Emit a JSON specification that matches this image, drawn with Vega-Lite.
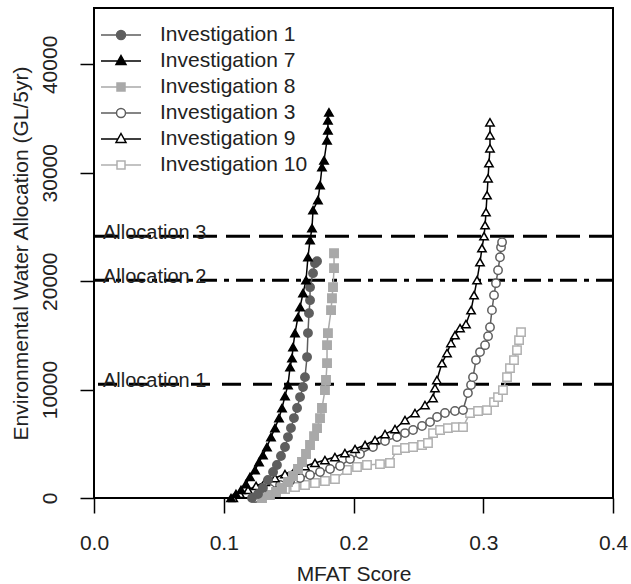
{
  "$schema": "https://vega.github.io/schema/vega-lite/v6.json",
  "autosize": {"type": "none"},
  "padding": {"left": 94, "top": 8, "right": 18, "bottom": 86},
  "width": 519,
  "height": 490,
  "background": "white",
  "config": {
    "font": "Liberation Sans",
    "view": {"stroke": "#000", "strokeWidth": 2},
    "axis": {"grid": false, "domain": false, "tickColor": "#000", "tickWidth": 1.5, "labelColor": "#222", "titleColor": "#222", "labelFont": "Liberation Sans", "titleFont": "Liberation Sans", "labelFontWeight": "normal", "titleFontWeight": "normal"}
  },
  "datasets": {
    "curves": [
      {"series":"Investigation 10","mfat":0.1264,"alloc":0},{"series":"Investigation 10","mfat":0.1318,"alloc":280},{"series":"Investigation 10","mfat":0.1395,"alloc":550},{"series":"Investigation 10","mfat":0.1472,"alloc":830},{"series":"Investigation 10","mfat":0.1549,"alloc":1010},{"series":"Investigation 10","mfat":0.1626,"alloc":1200},{"series":"Investigation 10","mfat":0.1703,"alloc":1380},{"series":"Investigation 10","mfat":0.1780,"alloc":1570},{"series":"Investigation 10","mfat":0.1857,"alloc":1750},{"series":"Investigation 10","mfat":0.1950,"alloc":2580},{"series":"Investigation 10","mfat":0.2027,"alloc":2860},{"series":"Investigation 10","mfat":0.2104,"alloc":3040},{"series":"Investigation 10","mfat":0.2204,"alloc":3130},{"series":"Investigation 10","mfat":0.2281,"alloc":3230},{"series":"Investigation 10","mfat":0.2335,"alloc":4420},{"series":"Investigation 10","mfat":0.2397,"alloc":4610},{"series":"Investigation 10","mfat":0.2459,"alloc":4700},{"series":"Investigation 10","mfat":0.2528,"alloc":4890},{"series":"Investigation 10","mfat":0.2574,"alloc":5070},{"series":"Investigation 10","mfat":0.2613,"alloc":5990},{"series":"Investigation 10","mfat":0.2667,"alloc":6270},{"series":"Investigation 10","mfat":0.2728,"alloc":6450},{"series":"Investigation 10","mfat":0.2790,"alloc":6540},{"series":"Investigation 10","mfat":0.2844,"alloc":6540},{"series":"Investigation 10","mfat":0.2898,"alloc":7840},{"series":"Investigation 10","mfat":0.2960,"alloc":8020},{"series":"Investigation 10","mfat":0.3029,"alloc":8110},{"series":"Investigation 10","mfat":0.3083,"alloc":8850},{"series":"Investigation 10","mfat":0.3114,"alloc":9310},{"series":"Investigation 10","mfat":0.3152,"alloc":9950},{"series":"Investigation 10","mfat":0.3183,"alloc":11150},{"series":"Investigation 10","mfat":0.3206,"alloc":11980},{"series":"Investigation 10","mfat":0.3237,"alloc":12720},{"series":"Investigation 10","mfat":0.3260,"alloc":13640},{"series":"Investigation 10","mfat":0.3276,"alloc":14560},{"series":"Investigation 10","mfat":0.3291,"alloc":15300},
      {"series":"Investigation 3","mfat":0.1241,"alloc":0},{"series":"Investigation 3","mfat":0.1295,"alloc":460},{"series":"Investigation 3","mfat":0.1356,"alloc":830},{"series":"Investigation 3","mfat":0.1434,"alloc":1200},{"series":"Investigation 3","mfat":0.1511,"alloc":1570},{"series":"Investigation 3","mfat":0.1588,"alloc":1840},{"series":"Investigation 3","mfat":0.1665,"alloc":2120},{"series":"Investigation 3","mfat":0.1742,"alloc":2400},{"series":"Investigation 3","mfat":0.1819,"alloc":2670},{"series":"Investigation 3","mfat":0.1896,"alloc":2950},{"series":"Investigation 3","mfat":0.1973,"alloc":3590},{"series":"Investigation 3","mfat":0.2050,"alloc":4060},{"series":"Investigation 3","mfat":0.2150,"alloc":4700},{"series":"Investigation 3","mfat":0.2243,"alloc":5250},{"series":"Investigation 3","mfat":0.2335,"alloc":5620},{"series":"Investigation 3","mfat":0.2397,"alloc":5990},{"series":"Investigation 3","mfat":0.2459,"alloc":6270},{"series":"Investigation 3","mfat":0.2528,"alloc":6640},{"series":"Investigation 3","mfat":0.2590,"alloc":7000},{"series":"Investigation 3","mfat":0.2644,"alloc":7470},{"series":"Investigation 3","mfat":0.2705,"alloc":7840},{"series":"Investigation 3","mfat":0.2782,"alloc":8020},{"series":"Investigation 3","mfat":0.2844,"alloc":8110},{"series":"Investigation 3","mfat":0.2882,"alloc":9680},{"series":"Investigation 3","mfat":0.2906,"alloc":10420},{"series":"Investigation 3","mfat":0.2921,"alloc":11150},{"series":"Investigation 3","mfat":0.2944,"alloc":12720},{"series":"Investigation 3","mfat":0.2975,"alloc":13460},{"series":"Investigation 3","mfat":0.3014,"alloc":14100},{"series":"Investigation 3","mfat":0.3037,"alloc":14930},{"series":"Investigation 3","mfat":0.3052,"alloc":15760},{"series":"Investigation 3","mfat":0.3067,"alloc":17330},{"series":"Investigation 3","mfat":0.3083,"alloc":18710},{"series":"Investigation 3","mfat":0.3098,"alloc":19820},{"series":"Investigation 3","mfat":0.3114,"alloc":21010},{"series":"Investigation 3","mfat":0.3129,"alloc":22210},{"series":"Investigation 3","mfat":0.3137,"alloc":23130},{"series":"Investigation 3","mfat":0.3145,"alloc":23600},
      {"series":"Investigation 9","mfat":0.1073,"alloc":0},{"series":"Investigation 9","mfat":0.1125,"alloc":370},{"series":"Investigation 9","mfat":0.1187,"alloc":740},{"series":"Investigation 9","mfat":0.1249,"alloc":1110},{"series":"Investigation 9","mfat":0.1318,"alloc":1480},{"series":"Investigation 9","mfat":0.1395,"alloc":1840},{"series":"Investigation 9","mfat":0.1472,"alloc":2210},{"series":"Investigation 9","mfat":0.1549,"alloc":2580},{"series":"Investigation 9","mfat":0.1626,"alloc":2950},{"series":"Investigation 9","mfat":0.1703,"alloc":3230},{"series":"Investigation 9","mfat":0.1780,"alloc":3500},{"series":"Investigation 9","mfat":0.1857,"alloc":3780},{"series":"Investigation 9","mfat":0.1934,"alloc":4150},{"series":"Investigation 9","mfat":0.2012,"alloc":4520},{"series":"Investigation 9","mfat":0.2089,"alloc":4890},{"series":"Investigation 9","mfat":0.2166,"alloc":5350},{"series":"Investigation 9","mfat":0.2243,"alloc":5900},{"series":"Investigation 9","mfat":0.2320,"alloc":6360},{"series":"Investigation 9","mfat":0.2397,"alloc":7190},{"series":"Investigation 9","mfat":0.2474,"alloc":7840},{"series":"Investigation 9","mfat":0.2551,"alloc":8570},{"series":"Investigation 9","mfat":0.2613,"alloc":9220},{"series":"Investigation 9","mfat":0.2628,"alloc":10140},{"series":"Investigation 9","mfat":0.2643,"alloc":10880},{"series":"Investigation 9","mfat":0.2682,"alloc":12440},{"series":"Investigation 9","mfat":0.2721,"alloc":13370},{"series":"Investigation 9","mfat":0.2751,"alloc":14290},{"series":"Investigation 9","mfat":0.2782,"alloc":15020},{"series":"Investigation 9","mfat":0.2821,"alloc":15670},{"series":"Investigation 9","mfat":0.2867,"alloc":16040},{"series":"Investigation 9","mfat":0.2906,"alloc":17330},{"series":"Investigation 9","mfat":0.2929,"alloc":18710},{"series":"Investigation 9","mfat":0.2952,"alloc":20090},{"series":"Investigation 9","mfat":0.2975,"alloc":21750},{"series":"Investigation 9","mfat":0.2990,"alloc":23040},{"series":"Investigation 9","mfat":0.3006,"alloc":24150},{"series":"Investigation 9","mfat":0.3014,"alloc":25160},{"series":"Investigation 9","mfat":0.3021,"alloc":26360},{"series":"Investigation 9","mfat":0.3029,"alloc":27930},{"series":"Investigation 9","mfat":0.3037,"alloc":29490},{"series":"Investigation 9","mfat":0.3044,"alloc":30880},{"series":"Investigation 9","mfat":0.3052,"alloc":32260},{"series":"Investigation 9","mfat":0.3052,"alloc":33460},{"series":"Investigation 9","mfat":0.3052,"alloc":34660},
      {"series":"Investigation 8","mfat":0.1295,"alloc":0},{"series":"Investigation 8","mfat":0.1356,"alloc":280},{"series":"Investigation 8","mfat":0.1403,"alloc":550},{"series":"Investigation 8","mfat":0.1449,"alloc":920},{"series":"Investigation 8","mfat":0.1495,"alloc":1480},{"series":"Investigation 8","mfat":0.1534,"alloc":2030},{"series":"Investigation 8","mfat":0.1572,"alloc":2670},{"series":"Investigation 8","mfat":0.1603,"alloc":3320},{"series":"Investigation 8","mfat":0.1634,"alloc":4060},{"series":"Investigation 8","mfat":0.1665,"alloc":4890},{"series":"Investigation 8","mfat":0.1696,"alloc":5710},{"series":"Investigation 8","mfat":0.1719,"alloc":6450},{"series":"Investigation 8","mfat":0.1742,"alloc":7370},{"series":"Investigation 8","mfat":0.1757,"alloc":8300},{"series":"Investigation 8","mfat":0.1780,"alloc":9950},{"series":"Investigation 8","mfat":0.1788,"alloc":10880},{"series":"Investigation 8","mfat":0.1796,"alloc":12440},{"series":"Investigation 8","mfat":0.1796,"alloc":14100},{"series":"Investigation 8","mfat":0.1803,"alloc":15210},{"series":"Investigation 8","mfat":0.1827,"alloc":17330},{"series":"Investigation 8","mfat":0.1834,"alloc":18430},{"series":"Investigation 8","mfat":0.1842,"alloc":19450},{"series":"Investigation 8","mfat":0.1850,"alloc":21200},{"series":"Investigation 8","mfat":0.1850,"alloc":22580},
      {"series":"Investigation 1","mfat":0.1218,"alloc":0},{"series":"Investigation 1","mfat":0.1264,"alloc":370},{"series":"Investigation 1","mfat":0.1302,"alloc":920},{"series":"Investigation 1","mfat":0.1341,"alloc":1660},{"series":"Investigation 1","mfat":0.1380,"alloc":2400},{"series":"Investigation 1","mfat":0.1410,"alloc":3040},{"series":"Investigation 1","mfat":0.1441,"alloc":3870},{"series":"Investigation 1","mfat":0.1472,"alloc":4700},{"series":"Investigation 1","mfat":0.1495,"alloc":5620},{"series":"Investigation 1","mfat":0.1518,"alloc":6450},{"series":"Investigation 1","mfat":0.1541,"alloc":7370},{"series":"Investigation 1","mfat":0.1565,"alloc":8300},{"series":"Investigation 1","mfat":0.1588,"alloc":9310},{"series":"Investigation 1","mfat":0.1611,"alloc":10230},{"series":"Investigation 1","mfat":0.1626,"alloc":11150},{"series":"Investigation 1","mfat":0.1642,"alloc":13000},{"series":"Investigation 1","mfat":0.1649,"alloc":15210},{"series":"Investigation 1","mfat":0.1657,"alloc":17050},{"series":"Investigation 1","mfat":0.1665,"alloc":18250},{"series":"Investigation 1","mfat":0.1665,"alloc":19450},{"series":"Investigation 1","mfat":0.1688,"alloc":20740},{"series":"Investigation 1","mfat":0.1703,"alloc":21660},{"series":"Investigation 1","mfat":0.1719,"alloc":21840},
      {"series":"Investigation 7","mfat":0.1056,"alloc":0},{"series":"Investigation 7","mfat":0.1094,"alloc":370},{"series":"Investigation 7","mfat":0.1133,"alloc":740},{"series":"Investigation 7","mfat":0.1171,"alloc":1290},{"series":"Investigation 7","mfat":0.1202,"alloc":1940},{"series":"Investigation 7","mfat":0.1241,"alloc":2580},{"series":"Investigation 7","mfat":0.1272,"alloc":3320},{"series":"Investigation 7","mfat":0.1302,"alloc":3960},{"series":"Investigation 7","mfat":0.1333,"alloc":4700},{"series":"Investigation 7","mfat":0.1364,"alloc":5620},{"series":"Investigation 7","mfat":0.1395,"alloc":6450},{"series":"Investigation 7","mfat":0.1426,"alloc":7370},{"series":"Investigation 7","mfat":0.1449,"alloc":8300},{"series":"Investigation 7","mfat":0.1472,"alloc":9400},{"series":"Investigation 7","mfat":0.1495,"alloc":10420},{"series":"Investigation 7","mfat":0.1511,"alloc":12070},{"series":"Investigation 7","mfat":0.1526,"alloc":12900},{"series":"Investigation 7","mfat":0.1534,"alloc":13920},{"series":"Investigation 7","mfat":0.1549,"alloc":15210},{"series":"Investigation 7","mfat":0.1572,"alloc":16680},{"series":"Investigation 7","mfat":0.1588,"alloc":17600},{"series":"Investigation 7","mfat":0.1611,"alloc":18900},{"series":"Investigation 7","mfat":0.1634,"alloc":20090},{"series":"Investigation 7","mfat":0.1649,"alloc":22210},{"series":"Investigation 7","mfat":0.1665,"alloc":23780},{"series":"Investigation 7","mfat":0.1680,"alloc":24890},{"series":"Investigation 7","mfat":0.1688,"alloc":26550},{"series":"Investigation 7","mfat":0.1726,"alloc":27470},{"series":"Investigation 7","mfat":0.1742,"alloc":28850},{"series":"Investigation 7","mfat":0.1757,"alloc":30510},{"series":"Investigation 7","mfat":0.1773,"alloc":31150},{"series":"Investigation 7","mfat":0.1796,"alloc":33000},{"series":"Investigation 7","mfat":0.1803,"alloc":33920},{"series":"Investigation 7","mfat":0.1803,"alloc":34840},{"series":"Investigation 7","mfat":0.1811,"alloc":35580}
    ],
    "alloc": [
      {"label": "Allocation 3", "value": 24150},
      {"label": "Allocation 2", "value": 20090},
      {"label": "Allocation 1", "value": 10500}
    ]
  },
  "resolve": {"scale": {"shape": "independent", "fill": "independent", "stroke": "independent"}},
  "layer": [
    {
      "data": {"name": "alloc"},
      "mark": {"type": "rule", "strokeWidth": 3, "color": "#000"},
      "encoding": {
        "y": {"field": "value", "type": "quantitative"},
        "strokeDash": {"field": "label", "type": "nominal", "legend": null, "scale": {"domain": ["Allocation 3", "Allocation 2", "Allocation 1"], "range": [[24, 9], [17, 7, 5, 7], [19, 12]]}}
      }
    },
    {
      "data": {"name": "alloc"},
      "mark": {"type": "text", "align": "left", "baseline": "alphabetic", "dx": 9, "dy": 3, "fontSize": 20, "color": "#222", "font": "Liberation Sans"},
      "encoding": {
        "x": {"datum": 0},
        "y": {"field": "value", "type": "quantitative"},
        "text": {"field": "label"}
      }
    },
    {
      "data": {"name": "curves"},
      "mark": {"type": "line", "strokeWidth": 1.5},
      "encoding": {
        "x": {"field": "mfat", "type": "quantitative"},
        "y": {"field": "alloc", "type": "quantitative"},
        "order": {"field": "alloc"},
        "color": {"field": "series", "type": "nominal", "legend": null, "scale": {"domain": ["Investigation 1", "Investigation 7", "Investigation 8", "Investigation 3", "Investigation 9", "Investigation 10"], "range": ["#5e5e5e", "#000000", "#a9a9a9", "#5e5e5e", "#000000", "#b0b0b0"]}}
      }
    },
    {
      "data": {"name": "curves"},
      "mark": {"type": "point", "filled": true, "opacity": 1, "size": 70, "strokeWidth": 1.5},
      "encoding": {
        "x": {"field": "mfat", "type": "quantitative", "title": "MFAT Score", "scale": {"domain": [0, 0.4], "nice": false, "zero": false},
          "axis": {"values": [0, 0.1, 0.2, 0.3, 0.4], "format": ".1f", "labelFlush": false, "labelOverlap": false, "tickSize": 15, "labelPadding": 19, "labelFontSize": 21, "titleFontSize": 21, "titleBaseline": "alphabetic", "titleY": 82}},
        "y": {"field": "alloc", "type": "quantitative", "title": "Environmental Water Allocation (GL/5yr)", "scale": {"domain": [0, 45200], "nice": false},
          "axis": {"values": [0, 10000, 20000, 30000, 40000], "format": "d", "labelAngle": -90, "labelAlign": "center", "labelBaseline": "alphabetic", "labelFlush": false, "labelOverlap": false, "tickSize": 14, "labelPadding": 24, "labelFontSize": 21, "titleFontSize": 21, "titleBaseline": "middle", "titleX": -73, "titleAngle": -90}},
        "shape": {"field": "series", "type": "nominal", "legend": null, "scale": {"domain": ["Investigation 1", "Investigation 7", "Investigation 8", "Investigation 3", "Investigation 9", "Investigation 10"], "range": ["circle", "triangle-up", "square", "circle", "triangle-up", "square"]}},
        "fill": {"field": "series", "type": "nominal", "legend": null, "scale": {"domain": ["Investigation 1", "Investigation 7", "Investigation 8", "Investigation 3", "Investigation 9", "Investigation 10"], "range": ["#5e5e5e", "#000000", "#a9a9a9", "#ffffff", "#ffffff", "#ffffff"]}},
        "stroke": {"field": "series", "type": "nominal", "legend": null, "scale": {"domain": ["Investigation 1", "Investigation 7", "Investigation 8", "Investigation 3", "Investigation 9", "Investigation 10"], "range": ["#5e5e5e", "#000000", "#a9a9a9", "#5e5e5e", "#000000", "#b0b0b0"]}}
      }
    },
    {
      "data": {"name": "curves"},
      "transform": [{"filter": "datum.alloc < 0"}],
      "mark": {"type": "point", "filled": true, "opacity": 1, "strokeWidth": 1.5},
      "encoding": {
        "x": {"field": "mfat", "type": "quantitative"},
        "y": {"field": "alloc", "type": "quantitative"},
        "shape": {"field": "series", "type": "nominal", "scale": {"domain": ["Investigation 1", "Investigation 7", "Investigation 8", "Investigation 3", "Investigation 9", "Investigation 10"], "range": ["M-2,0H2M0.45,0A0.45,0.45,0,1,1,-0.45,0A0.45,0.45,0,1,1,0.45,0Z", "M-2,0H2M0,-0.55L0.5,0.35L-0.5,0.35Z", "M-2,0H2M-0.4,-0.4H0.4V0.4H-0.4Z", "M-2,0H-0.45M0.45,0H2M0.45,0A0.45,0.45,0,1,1,-0.45,0A0.45,0.45,0,1,1,0.45,0Z", "M-2,0H-0.3M0.3,0H2M0,-0.55L0.5,0.35L-0.5,0.35Z", "M-2,0H-0.4M0.4,0H2M-0.4,-0.4H0.4V0.4H-0.4Z"]},
          "legend": {"title": null, "orient": "top-left", "offset": 16, "padding": 0, "rowPadding": 5, "symbolSize": 400, "symbolStrokeWidth": 1.5, "labelOffset": 28, "labelFontSize": 21, "labelLimit": 300, "labelColor": "#222", "labelFont": "Liberation Sans"}},
        "fill": {"field": "series", "type": "nominal", "scale": {"domain": ["Investigation 1", "Investigation 7", "Investigation 8", "Investigation 3", "Investigation 9", "Investigation 10"], "range": ["#5e5e5e", "#000000", "#a9a9a9", "#ffffff", "#ffffff", "#ffffff"]},
          "legend": {"title": null, "orient": "top-left", "offset": 16, "padding": 0, "rowPadding": 5, "symbolSize": 400, "symbolStrokeWidth": 1.5, "labelOffset": 28, "labelFontSize": 21, "labelLimit": 300, "labelColor": "#222", "labelFont": "Liberation Sans"}},
        "stroke": {"field": "series", "type": "nominal", "scale": {"domain": ["Investigation 1", "Investigation 7", "Investigation 8", "Investigation 3", "Investigation 9", "Investigation 10"], "range": ["#5e5e5e", "#000000", "#a9a9a9", "#5e5e5e", "#000000", "#b0b0b0"]},
          "legend": {"title": null, "orient": "top-left", "offset": 16, "padding": 0, "rowPadding": 5, "symbolSize": 400, "symbolStrokeWidth": 1.5, "labelOffset": 28, "labelFontSize": 21, "labelLimit": 300, "labelColor": "#222", "labelFont": "Liberation Sans"}}
      }
    }
  ]
}
